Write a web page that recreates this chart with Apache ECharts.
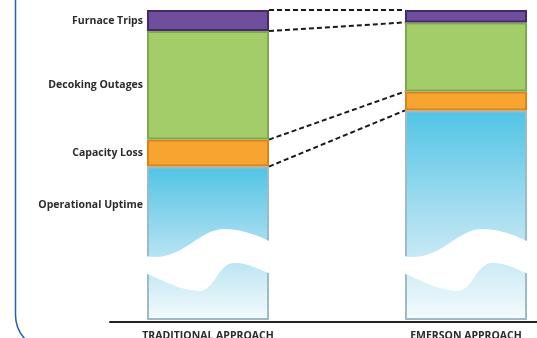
<!DOCTYPE html>
<html>
<head>
<meta charset="utf-8">
<script src="https://cdn.jsdelivr.net/npm/echarts@6/dist/echarts.min.js"></script>
<style>
  html, body { margin: 0; padding: 0; background: #fff; }
  #chart { width: 537px; height: 338px; }
</style>
</head>
<body>
<div id="chart"></div>
<script>
// data (share of furnace time, %)
var approaches = ['TRADITIONAL APPROACH', 'EMERSON APPROACH'];
var segmentNames = ['Operational Uptime', 'Capacity Loss', 'Decoking Outages', 'Furnace Trips'];
var uptime = [49.5, 67.6];
var capacityLoss = [8.7, 6.1];
var decokingOutages = [35.0, 22.3];
var furnaceTrips = [6.8, 4.0];
var breakAt = 19; // value where the white "axis break" wave sits

var barRatio = 0.473;
var labelFont = '"Open Sans", sans-serif';

// cumulative tops of each stacked segment, used by the dashed connectors
function cumulative(i) {
  var a = uptime[i], b = a + capacityLoss[i], c = b + decokingOutages[i], d = c + furnaceTrips[i];
  return [d, c, b, a];
}
var tradTops = cumulative(0), emerTops = cumulative(1);
var links = tradTops.map(function (v, k) { return [0, v, emerTops[k]]; });

function segment(name, values, fill, border, labelPos) {
  return {
    name: name,
    type: 'bar',
    stack: 'total',
    barWidth: (barRatio * 100) + '%',
    itemStyle: { color: fill, borderColor: border, borderWidth: 2 },
    data: values.map(function (v, i) {
      if (i !== 0) return v;
      return {
        value: v,
        label: {
          show: true,
          position: labelPos,
          distance: 4,
          align: 'right',
          verticalAlign: 'middle',
          formatter: name,
          color: '#2b2b2b',
          fontFamily: labelFont,
          fontWeight: 'bold',
          fontSize: 10.5
        }
      };
    })
  };
}

var chart = echarts.init(document.getElementById('chart'));
chart.setOption({
  animation: false,
  graphic: [{
    type: 'rect',
    shape: { x: 15.5, y: -40, width: 620, height: 390, r: 35 },
    style: { fill: 'none', stroke: '#2860aa', lineWidth: 1.5 },
    silent: true
  }],
  grid: [
    { left: 79, width: 516, top: 10, bottom: 18, outerBoundsMode: 'none' },
    { left: 110, right: 0, top: 10, bottom: 16, outerBoundsMode: 'none' }
  ],
  xAxis: [{
    type: 'category',
    data: approaches,
    gridIndex: 0,
    axisLine: { show: false },
    axisTick: { show: false },
    axisLabel: {
      margin: 11,
      color: '#2b2b2b',
      fontFamily: labelFont,
      fontWeight: 'bold',
      fontSize: 10.5
    }
  }, {
    type: 'value',
    gridIndex: 1,
    min: 0, max: 1,
    axisLine: { show: true, onZero: false, lineStyle: { color: '#222', width: 2 } },
    axisTick: { show: false },
    axisLabel: { show: false },
    splitLine: { show: false }
  }],
  yAxis: [
    { type: 'value', gridIndex: 0, min: 0, max: 100, show: false },
    { type: 'value', gridIndex: 1, min: 0, max: 1, show: false }
  ],
  series: [
    segment(segmentNames[0], uptime, new echarts.graphic.LinearGradient(0, 0, 0, 1, [
      { offset: 0, color: '#50c4e5' },
      { offset: 0.5, color: '#a9def0' },
      { offset: 1, color: '#f4fbfd' }
    ]), '#9fbac6', [-4, '25%']),
    segment(segmentNames[1], capacityLoss, '#f7a431', '#d8841c', 'left'),
    segment(segmentNames[2], decokingOutages, '#a2cd69', '#7fa851', 'left'),
    segment(segmentNames[3], furnaceTrips, '#6f4f9c', '#46296a', 'left'),
    {
      type: 'custom',
      z: 5,
      silent: true,
      data: approaches.map(function (a, i) { return [i, breakAt]; }),
      renderItem: function (params, api) {
        var c = api.coord([api.value(0), api.value(1)]);
        var w = api.size([1, 0])[0] * barRatio + 4;
        var x0 = c[0] - w / 2, cy = c[1];
        function P(u, v) { return (x0 + u * w).toFixed(1) + ' ' + (cy + v).toFixed(1); }
        var d = 'M' + P(0, -5) +
          ' C' + P(0.3, 2) + ' ' + P(0.42, -33) + ' ' + P(0.64, -32) +
          ' C' + P(0.8, -31) + ' ' + P(0.9, -25) + ' ' + P(1, -19) +
          ' L' + P(1, 13) +
          ' C' + P(0.9, 8) + ' ' + P(0.8, 1) + ' ' + P(0.7, 2) +
          ' C' + P(0.58, 3) + ' ' + P(0.55, 30) + ' ' + P(0.43, 30) +
          ' C' + P(0.3, 30) + ' ' + P(0.15, 20) + ' ' + P(0, 12) + ' Z';
        return { type: 'path', shape: { pathData: d }, style: { fill: '#fff' } };
      }
    },
    {
      type: 'custom',
      z: 5,
      silent: true,
      data: links,
      renderItem: function (params, api) {
        var half = api.size([1, 0])[0] * barRatio / 2;
        var a = api.coord([0, api.value(1)]);
        var b = api.coord([1, api.value(2)]);
        return {
          type: 'line',
          shape: { x1: a[0] + half, y1: a[1], x2: b[0] - half, y2: b[1] },
          style: { stroke: '#1a1a1a', lineWidth: 2, lineDash: [5, 3] }
        };
      }
    }
  ]
});
</script>
</body>
</html>
